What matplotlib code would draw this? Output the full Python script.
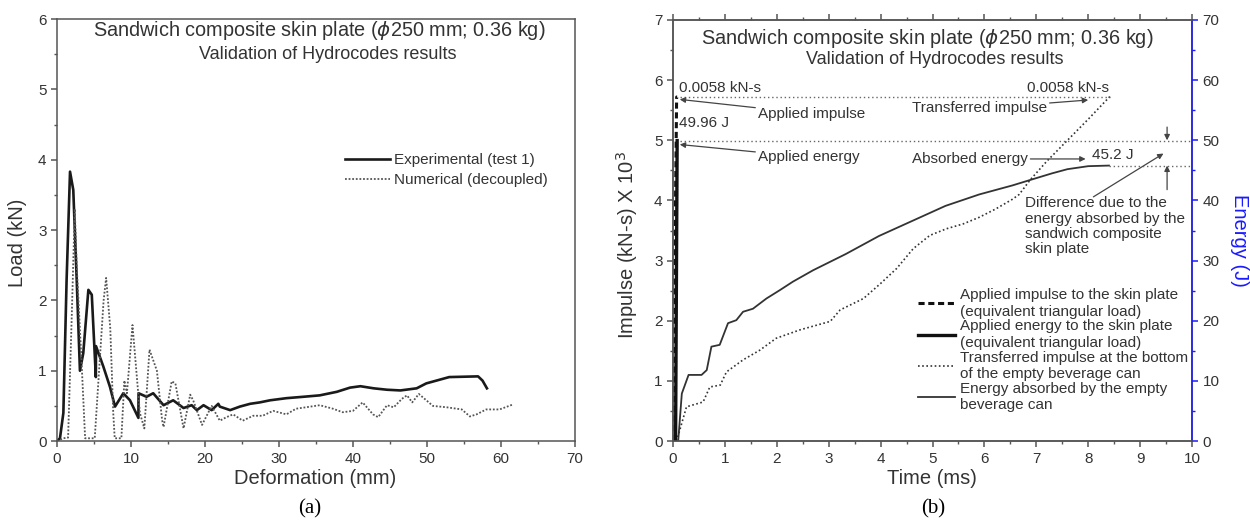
import numpy as np
import matplotlib.pyplot as plt

plt.rcParams['font.family'] = ['Liberation Sans', 'DejaVu Sans']
plt.rcParams['mathtext.fontset'] = 'dejavusans'

# ---- panel (a): load vs deformation ----
exp_x = [0, 0.4, 0.86, 1.3, 1.76, 2.2, 2.66, 3.1, 3.55, 4.24, 4.7, 5.25, 5.27, 6.26, 7.16,
         7.84, 8.96, 9.86, 11.0, 11.02, 12.1, 13.0, 14.4, 15.7, 17.1, 18.2, 18.9, 19.8,
         20.9, 21.8, 22.0, 23.4, 24.7, 26.1, 27.4, 28.8, 31.0, 33.3, 35.5, 37.8, 39.6,
         41.0, 42.8, 44.6, 46.4, 48.6, 49.9, 53.0, 56.9, 57.5, 58.1]
exp_y = [0, 0.04, 0.4, 2.3, 3.83, 3.57, 2.3, 1.0, 1.25, 2.15, 2.08, 0.91, 1.35, 1.06, 0.77,
         0.49, 0.68, 0.58, 0.33, 0.68, 0.63, 0.68, 0.51, 0.58, 0.47, 0.51, 0.44, 0.51,
         0.44, 0.53, 0.49, 0.44, 0.49, 0.53, 0.55, 0.58, 0.61, 0.63, 0.65, 0.7, 0.76,
         0.78, 0.75, 0.73, 0.72, 0.75, 0.82, 0.91, 0.92, 0.86, 0.75]

num_x = [0, 0.86, 1.5, 2.0, 2.4, 2.66, 3.33, 3.8, 4.24, 5.1, 5.6, 6.3, 6.64, 7.2, 7.6, 7.8,
         8.7, 9.1, 9.45, 10.2, 11.2, 11.8, 12.5, 13.5, 14.2, 14.4, 15.5, 16.0, 17.1, 18.0,
         18.4, 19.6, 20.9, 22.0, 22.9, 23.8, 25.1, 26.5, 27.8, 29.2, 31.0, 32.3, 33.6,
         35.5, 37.3, 38.6, 40.0, 41.3, 42.7, 43.4, 44.6, 45.5, 46.6, 47.3, 48.0, 48.9,
         50.8, 52.7, 54.7, 55.8, 56.7, 58.0, 59.8, 61.6]
num_y = [0, 0.04, 0.05, 1.8, 3.3, 2.5, 1.1, 0.04, 0.04, 0.04, 0.86, 2.0, 2.32, 1.6, 0.4, 0.04,
         0.04, 0.86, 0.68, 1.65, 0.4, 0.18, 1.3, 1.0, 0.3, 0.2, 0.85, 0.82, 0.18, 0.66,
         0.58, 0.23, 0.5, 0.29, 0.34, 0.38, 0.29, 0.36, 0.36, 0.43, 0.38, 0.46, 0.48,
         0.51, 0.46, 0.41, 0.43, 0.55, 0.38, 0.34, 0.51, 0.48, 0.6, 0.65, 0.55, 0.67,
         0.5, 0.48, 0.45, 0.35, 0.38, 0.45, 0.45, 0.52]

# ---- panel (b): impulse / energy vs time ----
app_imp_t = [0.0, 0.07, 0.08]
app_imp_v = [0.0, 5.72, 5.72]           # x 10^-3 kN-s
app_en_t = [0.05, 0.08]
app_en_v = [0.0, 49.96]                 # J

tr_t = [0.07, 0.26, 0.58, 0.71, 0.91, 1.03, 1.35, 1.67, 1.99, 2.45, 3.03, 3.22, 3.67, 4.0,
        4.31, 4.63, 4.95, 5.27, 5.59, 5.9, 6.22, 6.54, 6.67, 6.88, 7.2, 7.6, 8.0, 8.42]
tr_v = [0.0, 0.57, 0.65, 0.9, 0.93, 1.15, 1.35, 1.51, 1.71, 1.85, 1.99, 2.18, 2.37, 2.62,
        2.87, 3.2, 3.42, 3.53, 3.61, 3.72, 3.86, 4.02, 4.1, 4.34, 4.65, 5.0, 5.35, 5.73]

ab_t = [0.1, 0.17, 0.3, 0.55, 0.65, 0.74, 0.9, 1.06, 1.22, 1.35, 1.54, 1.8, 2.06, 2.31,
        2.7, 3.33, 3.97, 4.61, 5.25, 5.9, 6.54, 6.88, 7.3, 7.6, 8.0, 8.4]
ab_e = [0, 7.9, 11.0, 11.0, 11.8, 15.7, 16.0, 19.6, 20.1, 21.5, 22.0, 23.7, 25.1, 26.5,
        28.4, 31.1, 34.1, 36.6, 39.1, 41.0, 42.5, 43.4, 44.5, 45.2, 45.7, 45.8]

txt = '#333333'
sp = '#555555'
blue = '#1a1aff'

fig = plt.figure(figsize=(12.5, 5.22), dpi=100)
ax1 = fig.add_axes([0.0456, 0.155, 0.4144, 0.8086])
ax2 = fig.add_axes([0.5384, 0.155, 0.4152, 0.8067])
ax2r = ax2.twinx()

for ax in (ax1, ax2, ax2r):
    for s in ax.spines.values():
        s.set_color(sp)
        s.set_linewidth(1.1)
    ax.tick_params(which='both', direction='out', colors=sp, labelcolor=txt, labelsize=11)
    ax.tick_params(which='major', length=4, width=1.1)
    ax.tick_params(which='minor', length=2.5, width=1.0)

# panel (a)
ax1.plot(exp_x, exp_y, color='#1a1a1a', lw=1.9, label='Experimental (test 1)')
ax1.plot(num_x, num_y, color='#555555', lw=1.3, ls=(0, (1, 1)), label='Numerical (decoupled)')
ax1.set_xlim(0, 70)
ax1.set_ylim(0, 6)
ax1.set_xticks(np.arange(0, 71, 10))
ax1.set_xticks(np.arange(0, 71, 5), minor=True)
ax1.set_yticks(np.arange(0, 7, 1))
ax1.set_yticks(np.arange(0, 6.1, 0.5), minor=True)
ax1.text(0.506, 0.972, 'Sandwich composite skin plate ($\\phi$250 mm; 0.36 kg)',
         transform=ax1.transAxes, ha='center', va='center', fontsize=14.3, color=txt)
ax1.text(0.523, 0.917, 'Validation of Hydrocodes results',
         transform=ax1.transAxes, ha='center', va='center', fontsize=13, color=txt)
leg1 = ax1.legend(loc='upper left', bbox_to_anchor=(0.53, 0.715), frameon=False,
                  fontsize=11, handlelength=2.9, handletextpad=0.3, labelspacing=0.4)
for t in leg1.get_texts():
    t.set_color(txt)

# panel (b)
ax2.plot(app_imp_t, app_imp_v, color='#111111', lw=2.2, ls=(0, (2, 1.2)),
         label='Applied impulse to the skin plate\n(equivalent triangular load)')
ax2.plot([], [], color='#111111', lw=2.4,
         label='Applied energy to the skin plate\n(equivalent triangular load)')
ax2.plot(tr_t, tr_v, color='#333333', lw=1.2, ls=(0, (1, 1.5)),
         label='Transferred impulse at the bottom\nof the empty beverage can')
ax2.plot([], [], color='#333333', lw=1.3,
         label='Energy absorbed by the empty\nbeverage can')
ax2r.plot(app_en_t, app_en_v, color='#111111', lw=2.4)
ax2r.plot(ab_t, ab_e, color='#333333', lw=1.3)

# reference levels
ax2.plot([0.13, 8.42], [5.72, 5.72], color='#666666', lw=1.0, ls=(0, (1, 2)))
ax2r.plot([0.13, 10], [49.96, 49.96], color='#666666', lw=1.0, ls=(0, (1, 2)))
ax2r.plot([8.4, 10], [45.8, 45.8], color='#666666', lw=1.0, ls=(0, (1, 2)))

ax2.set_xlim(0, 10)
ax2.set_ylim(0, 7)
ax2.set_xticks(np.arange(0, 11, 1))
ax2.set_xticks(np.arange(0, 10.1, 0.5), minor=True)
ax2.set_yticks(np.arange(0, 8, 1))
ax2.set_yticks(np.arange(0, 7.1, 0.5), minor=True)
ax2.tick_params(which='both', top=True, labeltop=False, right=False)
ax2r.set_ylim(0, 70)
ax2r.set_yticks(np.arange(0, 71, 10))
ax2r.set_yticks(np.arange(0, 71, 5), minor=True)
ax2r.spines['right'].set_color(blue)
ax2r.tick_params(which='both', axis='y', colors=blue, labelcolor=txt)

ax2.text(0.49, 0.957, 'Sandwich composite skin plate ($\\phi$250 mm; 0.36 kg)',
         transform=ax2.transAxes, ha='center', va='center', fontsize=14.3, color=txt)
ax2.text(0.505, 0.905, 'Validation of Hydrocodes results',
         transform=ax2.transAxes, ha='center', va='center', fontsize=13, color=txt)

afs = 11
arw = dict(arrowstyle='-|>', color='#444444', lw=0.9, mutation_scale=8, shrinkA=0, shrinkB=0)
ax2.text(0.12, 5.87, '0.0058 kN-s', fontsize=afs, color=txt, va='center')
ax2.annotate('Applied impulse', xy=(0.13, 5.68), xytext=(1.64, 5.44), fontsize=afs,
             color=txt, va='center', arrowprops=arw)
ax2.text(0.12, 5.29, '49.96 J', fontsize=afs, color=txt, va='center')
ax2.annotate('Applied energy', xy=(0.13, 4.93), xytext=(1.64, 4.72), fontsize=afs,
             color=txt, va='center', arrowprops=arw)
ax2.text(8.4, 5.87, '0.0058 kN-s', fontsize=afs, color=txt, va='center', ha='right')
ax2.annotate('Transferred impulse', xy=(8.0, 5.67), xytext=(4.6, 5.53), fontsize=afs,
             color=txt, va='center', arrowprops=arw)
ax2.annotate('Absorbed energy', xy=(7.95, 4.69), xytext=(4.6, 4.69), fontsize=afs,
             color=txt, va='center', arrowprops=arw)
ax2.text(8.08, 4.75, '45.2 J', fontsize=afs, color=txt, va='center')
ax2.annotate('', xy=(9.45, 4.78), xytext=(8.1, 4.06), arrowprops=arw)
ax2.text(6.78, 4.07, 'Difference due to the\nenergy absorbed by the\nsandwich composite\nskin plate',
         fontsize=afs, color=txt, va='top', linespacing=1.12)
ax2.annotate('', xy=(9.52, 5.0), xytext=(9.52, 5.22), arrowprops=arw)
ax2.annotate('', xy=(9.52, 4.58), xytext=(9.52, 4.18), arrowprops=arw)

leg2 = ax2.legend(loc='upper left', bbox_to_anchor=(0.455, 0.385), frameon=False,
                  fontsize=11, handlelength=2.4, handletextpad=0.3, labelspacing=0.05,
                  borderaxespad=0.2)
for t in leg2.get_texts():
    t.set_color(txt)
    t.set_linespacing(1.22)

# axis labels
fig.text(18 / 1250, 1 - 243 / 522, 'Load (kN)', rotation=90, ha='center', va='center',
         fontsize=14.5, color=txt)
fig.text(315 / 1250, 1 - 479 / 522, 'Deformation (mm)', ha='center', va='center',
         fontsize=14.5, color=txt)
fig.text(627 / 1250, 1 - 245 / 522, 'Impulse (kN-s) X 10$^3$', rotation=90, ha='center',
         va='center', fontsize=14.5, color=txt)
fig.text(932 / 1250, 1 - 478 / 522, 'Time (ms)', ha='center', va='center',
         fontsize=14.5, color=txt)
fig.text(1240 / 1250, 1 - 240 / 522, 'Energy (J)', rotation=270, ha='center', va='center',
         fontsize=14.5, color=blue)
fig.text(310 / 1250, 1 - 509 / 522, '(a)', ha='center', va='center', fontsize=15,
         family='Liberation Serif', color='black')
fig.text(933 / 1250, 1 - 509 / 522, '(b)', ha='center', va='center', fontsize=15,
         family='Liberation Serif', color='black')

fig.savefig('out.png', dpi=100)
